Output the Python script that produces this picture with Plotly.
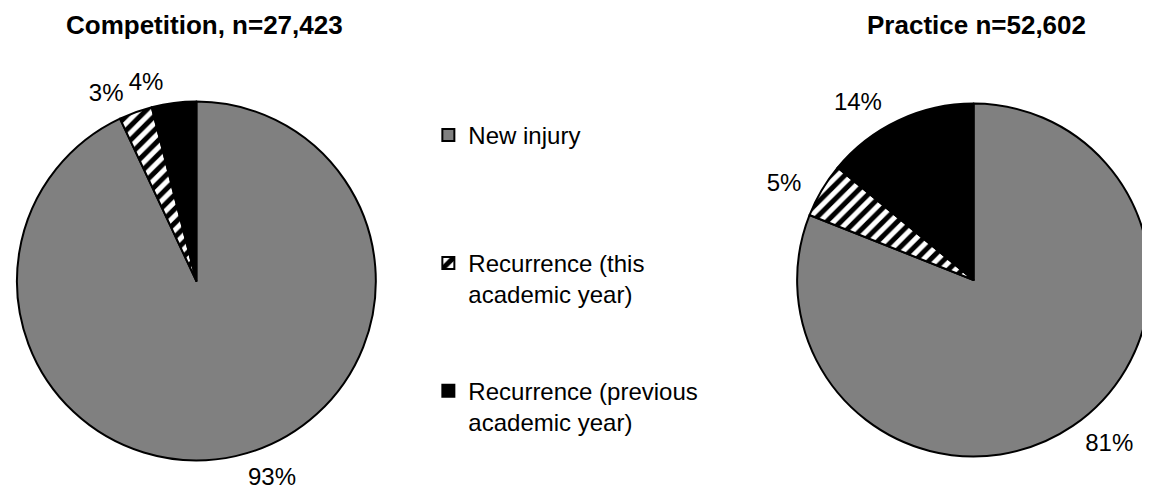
import plotly.graph_objects as go

categories = ["New injury", "Recurrence (this<br>academic year)", "Recurrence (previous<br>academic year)"]
competition_pct = [93, 3, 4]
practice_pct = [81, 5, 14]
titles = ["Competition, n=27,423", "Practice n=52,602"]

W, H = 1150, 496
FONT = "Liberation Sans, Arial, sans-serif"

# legend display labels (extra blank lines give the wide vertical spacing)
pad = "<br>\u00a0"
legend_labels = [categories[0] + pad * 3, categories[1] + pad * 2, categories[2]]

colors = ["#808080", "#ffffff", "#000000"]
pattern = dict(shape=["", "/", ""], fgcolor="#000000", bgcolor="#ffffff", size=10, solidity=0.5)
txtfont = dict(size=24, color="#000000", family=FONT)
NB = "\u00a0"


def px_dom(x0, x1, y0, y1):
    return dict(x=[x0 / W, x1 / W], y=[1 - y1 / H, 1 - y0 / H])


def pie(values, dom, **kw):
    return go.Pie(labels=legend_labels, values=values, sort=False, direction="clockwise",
                  rotation=0, domain=dom, **kw)


def label_pie(values, dom, templates):
    # transparent pie sharing the data, used only to place the percentage labels
    return pie(values, dom, showlegend=False, hoverinfo="skip",
               marker=dict(colors=["rgba(0,0,0,0)"] * len(values), line=dict(width=0)),
               texttemplate=templates, textposition="outside", textfont=txtfont)


fig = go.Figure()

# visible pies
fig.add_trace(pie(competition_pct, px_dom(4, 366, 92, 454),
                  marker=dict(colors=colors, line=dict(color="#000000", width=2), pattern=pattern),
                  textinfo="none", hoverinfo="label+value"))
fig.add_trace(pie(practice_pct, px_dom(791, 1147, 94, 450),
                  marker=dict(colors=colors, line=dict(color="#000000", width=2), pattern=pattern),
                  textinfo="none", hoverinfo="label+value"))

# percentage labels
lab_comp = px_dom(0, 378, 84, 462)
fig.add_trace(label_pie(competition_pct, lab_comp, ["%{value}%", "%{value}%" + NB, ""]))
fig.add_trace(label_pie(competition_pct, lab_comp, ["", "", "%{value}%" + NB]))
fig.add_trace(label_pie(practice_pct, px_dom(776, 1150, 85, 459),
                        [NB + "%{value}%", "%{value}%", "%{value}%"]))

fig.add_annotation(text="<b>" + titles[0] + "</b>", x=193 / W, y=1, xref="paper", yref="paper",
                   xanchor="center", yanchor="top", showarrow=False,
                   font=dict(size=26, color="#000000", family=FONT))
fig.add_annotation(text="<b>" + titles[1] + "</b>", x=972 / W, y=1, xref="paper", yref="paper",
                   xanchor="center", yanchor="top", showarrow=False,
                   font=dict(size=26, color="#000000", family=FONT))

fig.update_layout(
    width=W, height=H,
    margin=dict(l=0, r=0, t=0, b=0),
    paper_bgcolor="white", plot_bgcolor="white",
    font=dict(family=FONT, size=24, color="#000000"),
    showlegend=True,
    legend=dict(x=419 / W, y=1 - 105 / H, xanchor="left", yanchor="top",
                valign="top", font=dict(size=24, color="#000000", family=FONT),
                bgcolor="rgba(0,0,0,0)", itemwidth=30),
)

fig.write_html("out.html")
